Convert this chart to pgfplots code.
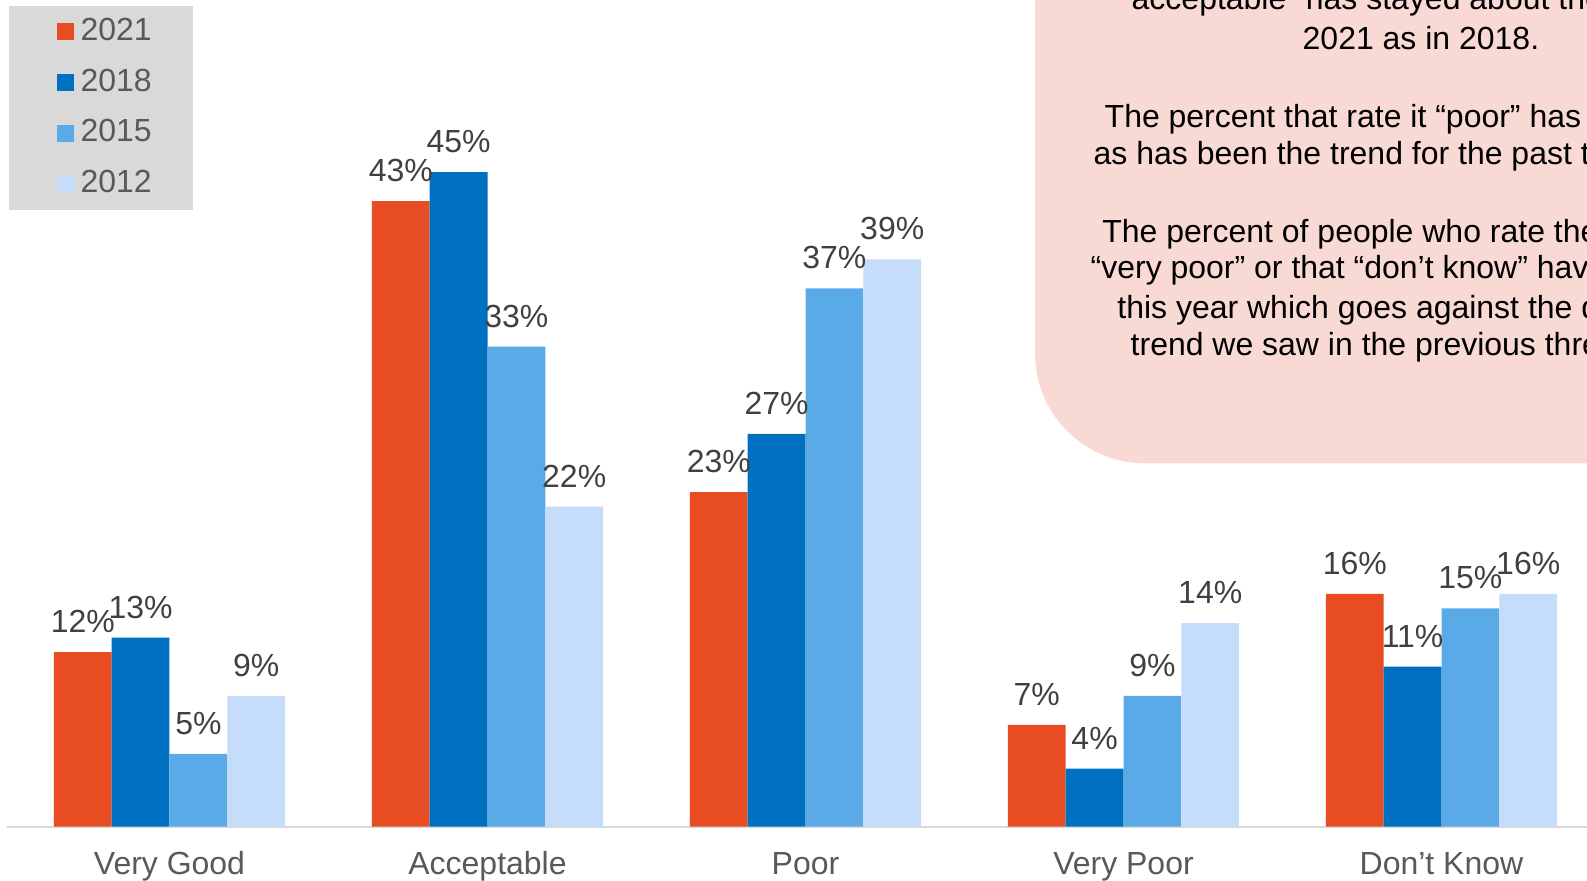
\documentclass[border=0pt]{standalone}
\usepackage{fontspec}
\setmainfont{Liberation Sans}
\usepackage{pgfplots}
\pgfplotsset{compat=1.18}
\definecolor{c21}{HTML}{E84C22}
\definecolor{c18}{HTML}{0070C0}
\definecolor{c15}{HTML}{5AAAE8}
\definecolor{c12}{HTML}{C5DCFB}
\definecolor{pinkbox}{HTML}{F8D9D3}
\definecolor{leggray}{HTML}{D9D9D9}
\definecolor{axisgray}{HTML}{D9D9D9}
\definecolor{labelgray}{HTML}{595959}
\definecolor{datagray}{HTML}{404040}
\begin{document}
\begin{tikzpicture}[font=\fontsize{9.1pt}{11pt}\selectfont]
\useasboundingbox (0,0) rectangle (158.7mm,88mm);
\clip (0,0) rectangle (158.7mm,88mm);
\fill[pinkbox, rounded corners=11mm] (103.5mm,41.67mm) rectangle (185mm,110mm);
\begin{scope}[every node/.style={anchor=base west, inner sep=0pt, text=black}]
\node at (113.1mm,87.0mm) {acceptable” has stayed about the same in};
\node at (130.2mm,83.0mm) {2021 as in 2018.};
\node at (110.4mm,75.23mm) {The percent that rate it “poor” has dropped};
\node at (109.3mm,71.5mm) {as has been the trend for the past three years.};
\node at (110.17mm,63.77mm) {The percent of people who rate the roads as};
\node at (109.0mm,60.1mm) {“very poor” or that “don’t know” have increased};
\node at (111.67mm,56.17mm) {this year which goes against the downward};
\node at (113.0mm,52.43mm) {trend we saw in the previous three surveys.};
\end{scope}
\begin{axis}[
  at={(0.7mm,5.33mm)}, anchor=south west,
  scale only axis, width=158.0mm, height=82.67mm,
  xmin=-0.511, xmax=4.4575, ymin=0, ymax=56.83,
  axis y line=none, axis x line*=bottom,
  x axis line style={draw=axisgray, line width=0.2mm, -},
  xtick={0,1,2,3,4},
  xticklabels={Very Good, Acceptable, Poor, Very Poor, Don’t Know},
  major tick length=0pt,
  xticklabel style={anchor=base, inner sep=0pt, yshift=-4.8mm, text=labelgray},
  /pgf/number format/assume math mode=true,
  ybar, bar width=0.1818,
  nodes near coords={\pgfmathprintnumber{\pgfplotspointmeta}\%},
  every node near coord/.append style={inner sep=0pt, yshift=1.85mm, text=datagray, anchor=south},
  legend image code/.code={\path (0mm,0mm); \fill[#1, draw=none] (0.7mm,-0.85mm) rectangle (2.4mm,0.85mm);},
  legend cell align=left,
  legend style={at={(0.0006,0.994)}, anchor=north west, fill=leggray, draw=none,
    inner xsep=4.1mm, inner ysep=1.25mm, row sep=2.3mm, column sep=0.7mm,
    nodes={inner sep=0pt, text=labelgray, minimum width=0pt, minimum height=0pt}},
]
\addplot[fill=c21, draw=none, bar shift=-0.2727] coordinates {(0,12) (1,43) (2,23) (3,7) (4,16)};
\addplot[fill=c18, draw=none, bar shift=-0.0909] coordinates {(0,13) (1,45) (2,27) (3,4) (4,11)};
\addplot[fill=c15, draw=none, bar shift=0.0909] coordinates {(0,5) (1,33) (2,37) (3,9) (4,15)};
\addplot[fill=c12, draw=none, bar shift=0.2727] coordinates {(0,9) (1,22) (2,39) (3,14) (4,16)};
\legend{2021,2018,2015,2012}
\end{axis}
\end{tikzpicture}
\end{document}
